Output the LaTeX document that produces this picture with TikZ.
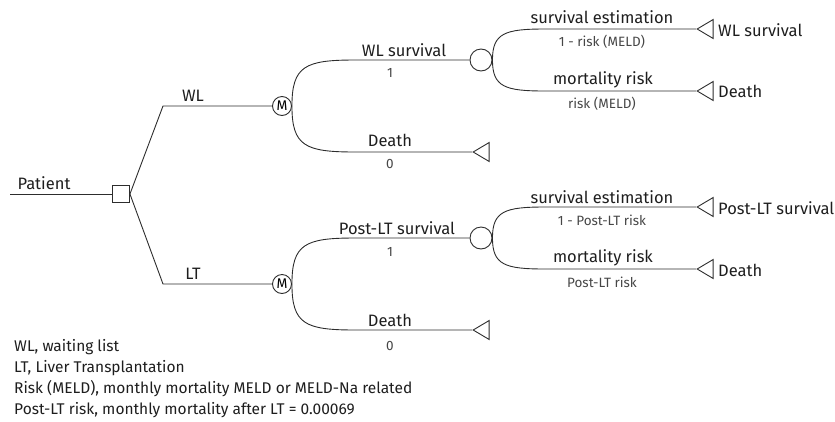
\documentclass[tikz,border=0pt]{standalone}
\usepackage{fontspec}
\setmainfont{Fira Sans}
\usetikzlibrary{shapes.geometric}

\definecolor{inkline}{RGB}{45,45,45}
\definecolor{inktext}{RGB}{30,30,30}
\definecolor{inkprob}{RGB}{70,70,70}

\tikzset{
  branch/.style={draw=inkline, line width=0.9pt},
  decision/.style={draw=inkline, line width=0.9pt, rectangle, minimum size=17pt, inner sep=0pt},
  markov/.style={draw=inkline, line width=0.9pt, circle, minimum size=19pt, inner sep=0pt, font=\fontsize{14}{14}\selectfont},
  chance/.style={draw=inkline, line width=0.9pt, circle, minimum size=22pt, inner sep=0pt},
  terminal/.style={draw=inkline, line width=0.9pt, isosceles triangle, shape border rotate=180,
    isosceles triangle stretches, minimum width=19pt, minimum height=16pt, inner sep=0pt, anchor=apex},
  lbl/.style={font=\fontsize{16.5}{16.5}\selectfont, text=inktext, inner sep=0pt},
  prob/.style={font=\fontsize{13.5}{13.5}\selectfont, text=inkprob, inner sep=0pt},
  note/.style={font=\fontsize{15.5}{15.5}\selectfont, text=inktext, inner sep=0pt, anchor=west},
}

\begin{document}
\begin{tikzpicture}[x=1pt,y=1pt,yscale=-1]
\useasboundingbox (0,0) rectangle (835,421);

%Decision node and Markov nodes
\coordinate (pstart) at (10,194);
\node [decision] (dec) at (121,194) {};
\coordinate (kwl) at (163,106);
\coordinate (klt) at (163,284);
\node [markov] (mwl) at (282,106) {M};
\node [markov] (mlt) at (282,284) {M};

%Chance nodes
\node [chance] (cwl) at (481,60) {};
\node [chance] (clt) at (481,238) {};

%Terminal nodes
\node [terminal] (twls) at (696,29) {};
\node [terminal] (twld) at (696,91) {};
\node [terminal] (twd) at (472,152) {};
\node [terminal] (tlts) at (696,207) {};
\node [terminal] (tltd) at (696,269) {};
\node [terminal] (tld) at (472,330) {};

%Straight Lines
\draw [branch] (pstart) -- (dec.west);
\draw [branch] (dec.east) -- (kwl) -- (mwl.west);
\draw [branch] (dec.east) -- (klt) -- (mlt.west);

%Curved branches
\draw [branch] (mwl.east) .. controls +(0,-40) and +(-50,0) .. (355,60) -- (cwl.west);
\draw [branch] (mwl.east) .. controls +(0,40) and +(-50,0) .. (355,152) -- (twd.apex);
\draw [branch] (mlt.east) .. controls +(0,-40) and +(-50,0) .. (355,238) -- (clt.west);
\draw [branch] (mlt.east) .. controls +(0,40) and +(-50,0) .. (355,330) -- (tld.apex);
\draw [branch] (cwl.east) .. controls +(0,-27) and +(-40,0) .. (545,29) -- (twls.apex);
\draw [branch] (cwl.east) .. controls +(0,27) and +(-40,0) .. (545,91) -- (twld.apex);
\draw [branch] (clt.east) .. controls +(0,-27) and +(-40,0) .. (545,207) -- (tlts.apex);
\draw [branch] (clt.east) .. controls +(0,27) and +(-40,0) .. (545,269) -- (tltd.apex);

% Text Node
\node [lbl] (tpat) at (44,183) {Patient};
\node [lbl] (twl) at (193,96) {WL};
\node [lbl] (tlt) at (193,274) {LT};
% Text Node
\node [lbl] (twlsurv) at (404,50) {WL survival};
\node [prob] (pwlsurv) at (390,73) {1};
\node [lbl] (twldeath) at (390,140) {Death};
\node [prob] (pwldeath) at (390,164) {0};
\node [lbl] (tltsurv) at (397,228) {Post-LT survival};
\node [prob] (pltsurv) at (390,252) {1};
\node [lbl] (tltdeath) at (390,320) {Death};
\node [prob] (pltdeath) at (390,346) {0};
% Text Node
\node [lbl] (tse1) at (602,17) {survival estimation};
\node [prob] (pse1) at (602,42) {1 - risk (MELD)};
\node [lbl] (tmr1) at (603,80) {mortality risk};
\node [prob] (pmr1) at (602,104) {risk (MELD)};
\node [lbl] (tse2) at (602,197) {survival estimation};
\node [prob] (pse2) at (602,220) {1 - Post-LT risk};
\node [lbl] (tmr2) at (603,258) {mortality risk};
\node [prob] (pmr2) at (602,282) {Post-LT risk};
% Text Node
\node [lbl, anchor=west] (ewls) at (718,30) {WL survival};
\node [lbl, anchor=west] (ewld) at (718,91) {Death};
\node [lbl, anchor=west] (elts) at (718,208) {Post-LT survival};
\node [lbl, anchor=west] (eltd) at (718,270) {Death};

% Legend
\node [note] (n1) at (14,347) {WL, waiting list};
\node [note] (n2) at (14,368) {LT, Liver Transplantation};
\node [note] (n3) at (14,389) {Risk (MELD), monthly mortality MELD or MELD-Na related};
\node [note] (n4) at (14,410) {Post-LT risk, monthly mortality after LT = 0.00069};

\end{tikzpicture}
\end{document}
